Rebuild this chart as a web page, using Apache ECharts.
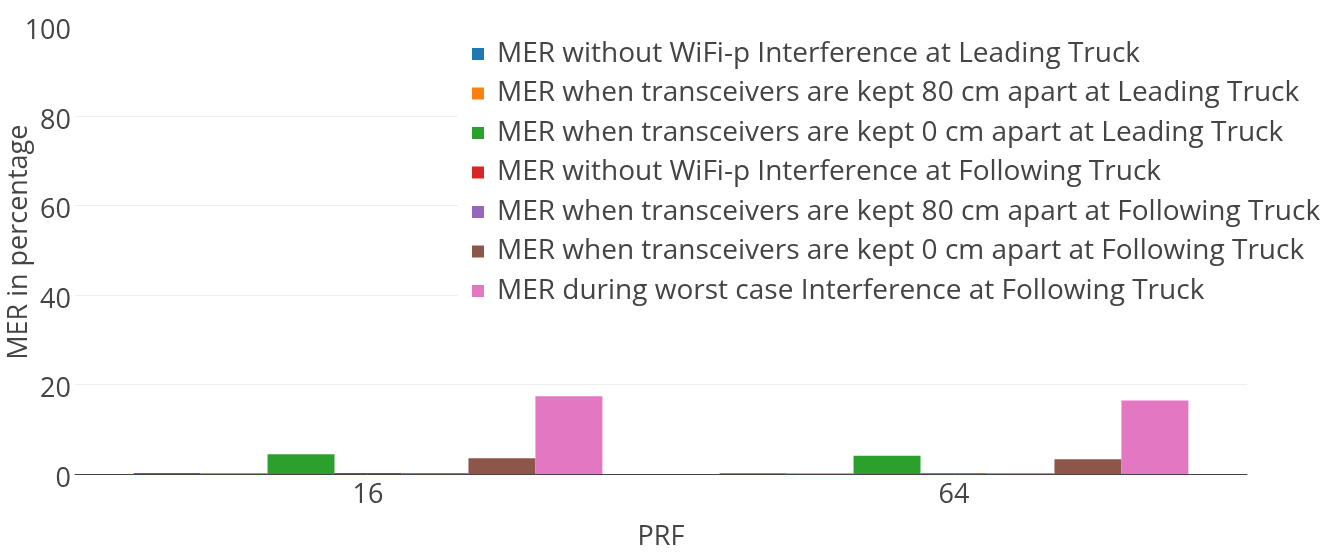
<!DOCTYPE html>
<html>
<head>
<meta charset="utf-8">
<script src="https://cdn.jsdelivr.net/npm/echarts@6/dist/echarts.min.js"></script>
<style>html,body{margin:0;padding:0;background:#fff;}#c{width:1323px;height:552px;}</style>
</head>
<body>
<div id="c"></div>
<script>
const categories = ['16', '64'];
const seriesNames = [
  'MER without WiFi-p Interference at Leading Truck',
  'MER when transceivers are kept 80 cm apart at Leading Truck',
  'MER when transceivers are kept 0 cm apart at Leading Truck',
  'MER without WiFi-p Interference at Following Truck',
  'MER when transceivers are kept 80 cm apart at Following Truck',
  'MER when transceivers are kept 0 cm apart at Following Truck',
  'MER during worst case Interference at Following Truck'
];
const leadNoInterf = [0.2, 0.15];
const lead80cm = [0.2, 0.15];
const lead0cm = [4.4, 4.1];
const followNoInterf = [0.2, 0.15];
const follow80cm = [0.2, 0.15];
const follow0cm = [3.5, 3.3];
const followWorst = [17.4, 16.4];
const yTicks = [0, 20, 40, 60, 80, 100];
const colors = ['#1f77b4', '#ff7f0e', '#2ca02c', '#d62728', '#9467bd', '#8c564b', '#e377c2'];

const allValues = [leadNoInterf, lead80cm, lead0cm, followNoInterf, follow80cm, follow0cm, followWorst];
const FONT = '"Open Sans", "Noto Sans", sans-serif';

const chart = echarts.init(document.getElementById('c'));
chart.setOption({
  animation: false,
  textStyle: { fontFamily: FONT, color: '#444' },
  grid: { left: 75, right: 76, top: 26.5, bottom: 78, containLabel: false, outerBoundsMode: 'none' },
  legend: {
    orient: 'vertical',
    left: 458,
    top: 29,
    padding: [10, 14, 10, 14],
    backgroundColor: '#fff',
    icon: 'rect',
    itemWidth: 12,
    itemHeight: 12,
    itemGap: 9.5,
    textStyle: { fontFamily: FONT, fontSize: 28, color: '#444', lineHeight: 30, padding: [0, 0, 0, 8] },
    data: seriesNames
  },
  xAxis: {
    type: 'category',
    data: categories,
    name: 'PRF',
    nameLocation: 'middle',
    nameGap: 50,
    nameMoveOverlap: false,
    nameTextStyle: { fontFamily: FONT, fontSize: 27, color: '#444' },
    axisLine: { show: true, lineStyle: { color: '#444', width: 1 } },
    axisTick: { show: false },
    axisLabel: { fontFamily: FONT, fontSize: 27, color: '#444', margin: 8 },
    splitLine: { show: false }
  },
  yAxis: {
    type: 'value',
    min: 0,
    max: 100,
    interval: 20,
    name: 'MER in percentage',
    nameLocation: 'middle',
    nameGap: 42,
    nameMoveOverlap: false,
    nameTextStyle: { fontFamily: FONT, fontSize: 27, color: '#444', padding: [0, 0, 0, 16] },
    axisLine: { show: false },
    axisTick: { show: false },
    axisLabel: { fontFamily: FONT, fontSize: 27, color: '#444', margin: 4,
      verticalAlign: 'top', lineHeight: 10,
      formatter: v => yTicks.includes(v) ? String(v) : '' },
    splitLine: { show: true, lineStyle: { color: ['#eee', '#eee', '#eee', '#eee', '#eee', 'rgba(0,0,0,0)'], width: 1 } }
  },
  series: seriesNames.map((n, i) => ({
    name: n,
    type: 'bar',
    data: allValues[i],
    barGap: '0%',
    barCategoryGap: '20%',
    itemStyle: { color: colors[i] }
  }))
});
</script>
</body>
</html>
